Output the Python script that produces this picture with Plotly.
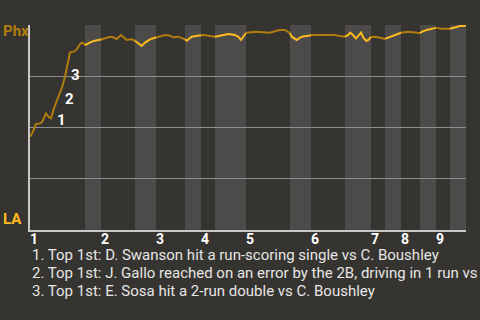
import plotly.graph_objects as go

# ---- data ----
# game progress (x) and Phoenix win probability (%) per play
play_x = [0, 2.3, 6, 10, 12.3, 16, 19, 21, 24, 26.7, 29.3, 32.3, 35, 37.7, 40, 44, 46.7, 50.7, 52.7, 55,
          58.3, 61.7, 66, 71,
          75, 80, 83.3, 86.7, 91, 94.3, 96.7, 101.7, 105,
          108.3, 111.7, 115, 120, 125, 126,
          130, 135, 140, 143.3, 148.3, 153.3, 155,
          156.7, 161.7, 166.7, 171,
          173.3, 180, 185,
          191.7, 198.3, 205, 208.3, 211, 213.3, 216,
          216.7, 225, 231.7, 240, 246.7, 250, 255, 258, 260,
          261.7, 266.7, 271.7, 278.3, 281,
          283.3, 291.7, 305, 310, 315,
          318, 320, 323, 326, 331, 333.5, 336.5, 338.5, 341,
          345, 350, 355,
          358.3, 361.7, 366.7, 371,
          378.3, 385, 390,
          391.7, 396.7, 401.7, 406,
          411.7, 420,
          425, 430, 435, 436]
phx_wp = [45.5, 47.3, 51.7, 52.0, 52.8, 56.9, 55.0, 54.5, 59.4, 62.6, 65.9, 69.9, 74.8, 81.3, 86.7, 87.0, 88.1, 91.1, 91.4, 90.2,
          91.1, 91.9, 92.4, 92.9,
          93.5, 94.3, 94.0, 93.2, 95.1, 93.5, 92.7, 93.0, 92.3,
          91.1, 89.8, 91.4, 93.0, 93.8, 93.9,
          94.6, 95.1, 94.8, 94.0, 94.3, 93.5, 93.0,
          92.3, 94.3, 94.8, 95.0,
          95.1, 94.6, 94.3,
          95.1, 95.6, 95.1, 94.3, 92.7, 94.3, 96.1,
          96.2, 96.7, 96.4, 96.2, 97.2, 97.6, 97.6, 96.7, 96.0,
          94.3, 92.7, 94.3, 94.8, 95.0,
          95.1, 95.1, 95.1, 94.6, 94.3,
          95.0, 96.3, 95.1, 93.4, 96.3, 93.7, 92.2, 92.7, 94.2,
          94.3, 93.8, 93.2,
          93.8, 94.8, 95.6, 96.2,
          96.7, 96.4, 96.0,
          96.7, 97.6, 98.0, 98.6,
          98.2, 98.2,
          98.9, 99.5, 99.6, 100.0]

# half-inning boundaries (top 1st, bottom 1st, top 2nd, ...) and end of game
half_bounds = [0, 55, 71, 105, 126, 155, 171, 185, 216, 260, 281, 315, 341, 355, 371, 390, 406, 420, 436]
inning_labels = ["1", "2", "3", "4", "5", "6", "7", "8", "9"]

event_labels = ["1", "2", "3"]
event_play_x = [24, 32.3, 37.7]
event_texts = [
    "1. Top 1st: D. Swanson hit a run-scoring single vs C. Boushley",
    "2. Top 1st: J. Gallo reached on an error by the 2B, driving in 1 run vs C. Boushley",
    "3. Top 1st: E. Sosa hit a 2-run double vs C. Boushley",
]

away_team, home_team = "Phx", "LA"

# ---- style ----
BG = "#363430"
BAND = "#4c4b49"
AWAY_COL = "#b07c0e"
HOME_COL = "#ffbb1e"
FONT = "Roboto"

fig = go.Figure()

# shaded bottom halves
for i in range(1, len(half_bounds) - 1, 2):
    fig.add_shape(type="rect", xref="x", yref="paper",
                  x0=half_bounds[i], x1=half_bounds[i + 1], y0=0, y1=1,
                  fillcolor=BAND, line_width=0, layer="below")

# line split per half inning
for i in range(len(half_bounds) - 1):
    a, b = half_bounds[i], half_bounds[i + 1]
    xs = [x for x in play_x if a <= x <= b]
    ys = [w for x, w in zip(play_x, phx_wp) if a <= x <= b]
    fig.add_trace(go.Scatter(x=xs, y=ys, mode="lines",
                             line=dict(color=AWAY_COL if i % 2 == 0 else HOME_COL, width=2),
                             hoverinfo="skip", showlegend=False))

# event markers
for lab, ex in zip(event_labels, event_play_x):
    ey = phx_wp[play_x.index(ex)]
    fig.add_annotation(x=ex, y=ey, text="<b>" + lab + "</b>", showarrow=False,
                       xanchor="left", yanchor="top", xshift=1, yshift=-1,
                       font=dict(family=FONT, size=15, color="#ffffff"))

# team labels
fig.add_annotation(xref="paper", yref="y", x=0, y=100, xanchor="left", yanchor="middle",
                   xshift=-29, yshift=-6, text="<b>" + away_team + "</b>", showarrow=False,
                   font=dict(family=FONT, size=15, color=AWAY_COL))
fig.add_annotation(xref="paper", yref="y", x=0, y=0, xanchor="left", yanchor="middle",
                   xshift=-29, yshift=11, text="<b>" + home_team + "</b>", showarrow=False,
                   font=dict(family=FONT, size=15, color=HOME_COL))

# footnotes
for k, t in enumerate(event_texts):
    fig.add_annotation(xref="paper", yref="paper", x=0, y=0, xanchor="left", yanchor="middle",
                       xshift=0, yshift=-25 - 18 * k, text=t, showarrow=False,
                       font=dict(family=FONT, size=15, color="#e6e6e6"))

fig.update_layout(
    width=480, height=320,
    margin=dict(l=30, r=14, t=25, b=90),
    paper_bgcolor=BG, plot_bgcolor=BG,
    showlegend=False,
    xaxis=dict(range=[half_bounds[0], half_bounds[-1]], showgrid=False, zeroline=False,
               showline=True, linecolor="#c8c8c8", linewidth=2,
               tickvals=[half_bounds[i] for i in range(0, len(half_bounds) - 1, 2)],
               ticktext=["<b>" + s + "</b>" for s in inning_labels],
               ticks="", ticklabelshift=4, ticklabelstandoff=-5,
               tickfont=dict(family=FONT, size=14, color="#ffffff"), fixedrange=True),
    yaxis=dict(range=[0, 100], tickvals=[25, 50, 75, 100], showticklabels=False,
               showgrid=True, gridcolor="#8e8e8e", gridwidth=1, zeroline=False,
               showline=True, linecolor="#c8c8c8", linewidth=2, ticks="", fixedrange=True),
)

fig.write_html("out.html")
